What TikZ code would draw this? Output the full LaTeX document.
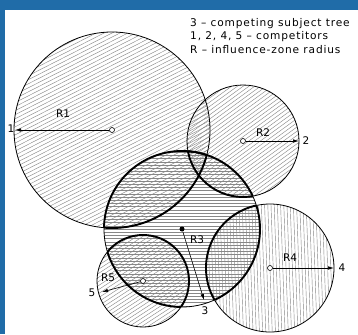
\documentclass[tikz,border=0pt]{standalone}
\usepackage{fontspec}
\newfontfamily\lab{DejaVu Sans}[Ligatures=TeX]
\newfontfamily\legfont{DejaVu Sans}[Ligatures=TeX, LetterSpace=8]
\usetikzlibrary{arrows.meta}
\definecolor{frameblue}{RGB}{32,108,168}
\definecolor{hatch}{RGB}{135,135,135}
\tikzset{
  outline/.style={line width=0.8pt, black},
  lensline/.style={line width=1.9pt, black},
  hatchline/.style={line width=0.42pt, hatch},
  centre/.style={circle, draw, fill=white, inner sep=0pt, minimum size=5pt, line width=0.6pt},
  subj/.style={circle, fill=black, inner sep=0pt, minimum size=5pt},
  radius arrow/.style={line width=0.6pt, -{Latex[length=6pt,width=3.5pt]}},
  lbl/.style={font=\lab\fontsize{10.5}{12}\selectfont, inner sep=0pt},
  legend/.style={font=\legfont\fontsize{10.6}{13.5}\selectfont, inner sep=0pt, align=left}
}
\begin{document}
\begin{tikzpicture}[x=1pt, y={(0,-1pt)}]
\useasboundingbox (0,0) rectangle (358,334);
\fill[frameblue] (0,0) rectangle (358,334);
\fill[white] (5,10) rectangle (358,334);

% centres
\coordinate (c1) at (112,130);
\coordinate (c2) at (243,141);
\coordinate (c3) at (182,229);
\coordinate (c4) at (270,268);
\coordinate (c5) at (143,281);
\def\ra{98}\def\rb{56}\def\rc{78}\def\rd{64}\def\re{46}

% hatching
\begin{scope}
  \clip (c1) circle (\ra);
  \begin{scope}[shift={(c1)}, rotate=27]
    \foreach \k in {-32,...,32} \draw[hatchline] (-130,\k*3.6) -- (130,\k*3.6);
  \end{scope}
\end{scope}
\begin{scope}
  \clip (c2) circle (\rb);
  \begin{scope}[shift={(c2)}, rotate=36]
    \foreach \k in {-20,...,20} \draw[hatchline] (-80,\k*3.4) -- (80,\k*3.4);
  \end{scope}
\end{scope}
\begin{scope}
  \clip (c3) circle (\rc);
  \begin{scope}[shift={(c3)}]
    \foreach \k in {-26,...,26} \draw[hatchline] (-100,\k*3.2) -- (100,\k*3.2);
  \end{scope}
\end{scope}
\begin{scope}
  \clip (c4) circle (\rd);
  \begin{scope}[shift={(c4)}, rotate=92]
    \foreach \k in {-22,...,22} \draw[hatchline] (-90,\k*3.2) -- (90,\k*3.2);
  \end{scope}
\end{scope}
\begin{scope}
  \clip (c5) circle (\re);
  \begin{scope}[shift={(c5)}, rotate=33]
    \foreach \k in {-17,...,17} \draw[hatchline] (-70,\k*3.4) -- (70,\k*3.4);
  \end{scope}
\end{scope}

% thin outlines
\draw[outline] (c1) circle (\ra);
\draw[outline] (c2) circle (\rb);
\draw[outline] (c3) circle (\rc);
\draw[outline] (c4) circle (\rd);
\draw[outline] (c5) circle (\re);

% bold lens outlines (overlaps with subject tree 3)
\begin{scope}\clip (c3) circle (\rc); \draw[lensline] (c1) circle (\ra); \end{scope}
\begin{scope}\clip (c1) circle (\ra); \draw[lensline] (c3) circle (\rc); \end{scope}
\begin{scope}\clip (c3) circle (\rc); \draw[lensline] (c2) circle (\rb); \end{scope}
\begin{scope}\clip (c2) circle (\rb); \draw[lensline] (c3) circle (\rc); \end{scope}
\begin{scope}\clip (c3) circle (\rc); \draw[lensline] (c4) circle (\rd); \end{scope}
\begin{scope}\clip (c4) circle (\rd); \draw[lensline] (c3) circle (\rc); \end{scope}
\begin{scope}\clip (c3) circle (\rc); \draw[lensline] (c5) circle (\re); \end{scope}
\begin{scope}\clip (c5) circle (\re); \draw[lensline] (c3) circle (\rc); \end{scope}

% centre marks
\node[centre] (o1) at (c1) {};
\node[centre] (o2) at (c2) {};
\node[subj] (o3) at (c3) {};
\node[centre] (o4) at (c4) {};
\node[centre] (o5) at (c5) {};

% radius end points
\coordinate (e1) at (15,130);
\coordinate (e2) at (299,141);
\coordinate (e3) at (204,300);
\coordinate (e4) at (334,268);
\coordinate (e5) at (102,292);

\draw[radius arrow] (o1) -- (e1);
\draw[radius arrow] (o2) -- (e2);
\draw[radius arrow] (o3) -- (e3);
\draw[radius arrow] (o4) -- (e4);
\draw[radius arrow] (o5) -- (e5);

% labels
\node[lbl] (r1) at (63,114) {R1};
\node[lbl] (n1) at (11,129) {1};
\node[lbl] (r2) at (263,133) {R2};
\node[lbl] (n2) at (306,141) {2};
\node[lbl] (r3) at (197,240) {R3};
\node[lbl] (n3) at (205,311) {3};
\node[lbl] (r4) at (290,258) {R4};
\node[lbl] (n4) at (342,268) {4};
\node[lbl] (r5) at (108,278) {R5};
\node[lbl] (n5) at (92,293) {5};

\node[legend, anchor=north west] (leg) at (190,18)
  {3 -- competing subject tree\\1, 2, 4, 5 -- competitors\\R -- influence-zone radius};
\end{tikzpicture}
\end{document}
